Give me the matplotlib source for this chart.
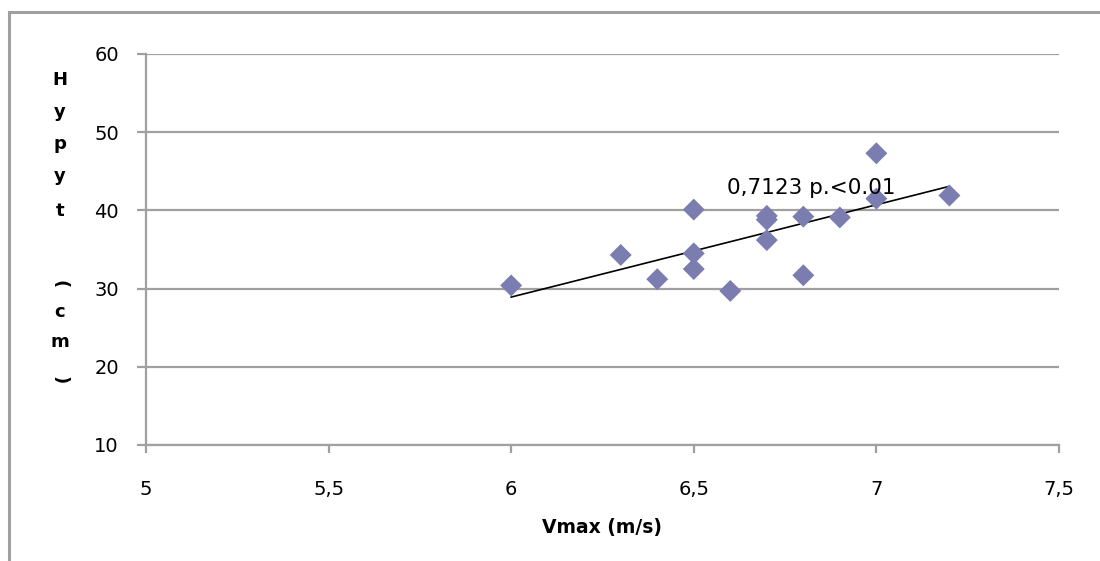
import numpy as np
import matplotlib.pyplot as plt
from matplotlib.patches import Rectangle

# Vitesse max (m/s) et hauteur du saut (cm)
vmax = [6.0, 6.3, 6.4, 6.5, 6.5, 6.5, 6.6, 6.7, 6.7, 6.7, 6.8, 6.8, 6.9, 7.0, 7.0, 7.2]
hauteur = [30.4, 34.3, 31.2, 40.1, 34.5, 32.5, 29.7, 39.3, 38.8, 36.2, 39.2, 31.7, 39.1, 47.3, 41.5, 41.9]

xticks = [5, 5.5, 6, 6.5, 7, 7.5]
xticklabels = ['5', '5,5', '6', '6,5', '7', '7,5']
yticks = [10, 20, 30, 40, 50, 60]
annotation = '0,7123 p.<0.01'
ylabel_chars = ['H', 'y', 'p', 'y', 't', '(', 'c', 'm', ')']

gris = '#a0a0a0'

fig = plt.figure(figsize=(11, 5.61), dpi=100)
ax = fig.add_axes([0.1327, 0.2068, 0.830, 0.697])

# Cadre extérieur du graphique
fig.patches.append(Rectangle((9 / 1100, -0.2), 1.2, 1.2 - 12 / 561,
                             transform=fig.transFigure, fill=False,
                             edgecolor=gris, linewidth=2.2, zorder=0))

# Droite de régression sur l'étendue des données
a, b = np.polyfit(vmax, hauteur, 1)
xl = np.array([min(vmax), max(vmax)])
ax.plot(xl, a * xl + b, color='black', linewidth=1.2, zorder=3)

ax.scatter(vmax, hauteur, marker='D', s=125, color='#7b7caf', edgecolors='none', zorder=4)

ax.text(6.59, 42.9, annotation, fontsize=15.5, va='center', ha='left', zorder=5)

ax.set_xlim(5, 7.5)
ax.set_ylim(10, 60)
ax.set_xticks(xticks)
ax.set_xticklabels(xticklabels)
ax.set_yticks(yticks)
ax.yaxis.grid(True, color=gris, linewidth=1.6)
ax.set_axisbelow(True)

for s in ['top', 'right']:
    ax.spines[s].set_visible(False)
for s in ['left', 'bottom']:
    ax.spines[s].set_color(gris)
    ax.spines[s].set_linewidth(1.6)

ax.tick_params(axis='y', length=6.5, width=1.6, color=gris, pad=13, labelsize=14)
ax.tick_params(axis='x', length=6, width=1.6, color=gris, pad=19, labelsize=14)

ax.set_xlabel('Vmax (m/s)', fontsize=13.5, fontweight='bold', labelpad=14)

# Titre vertical de l'axe y, une lettre par ligne (parenthèses tournées)
ypos = [80, 112, 144, 176, 211, 284, 312, 342, 380]
for c, yp in zip(ylabel_chars, ypos):
    rot = -90 if c in '()' else 0
    fig.text(60 / 1100, 1 - yp / 561, c, fontsize=13, fontweight='bold',
             ha='center', va='center', rotation=rot)

fig.savefig('out.png', dpi=100)
